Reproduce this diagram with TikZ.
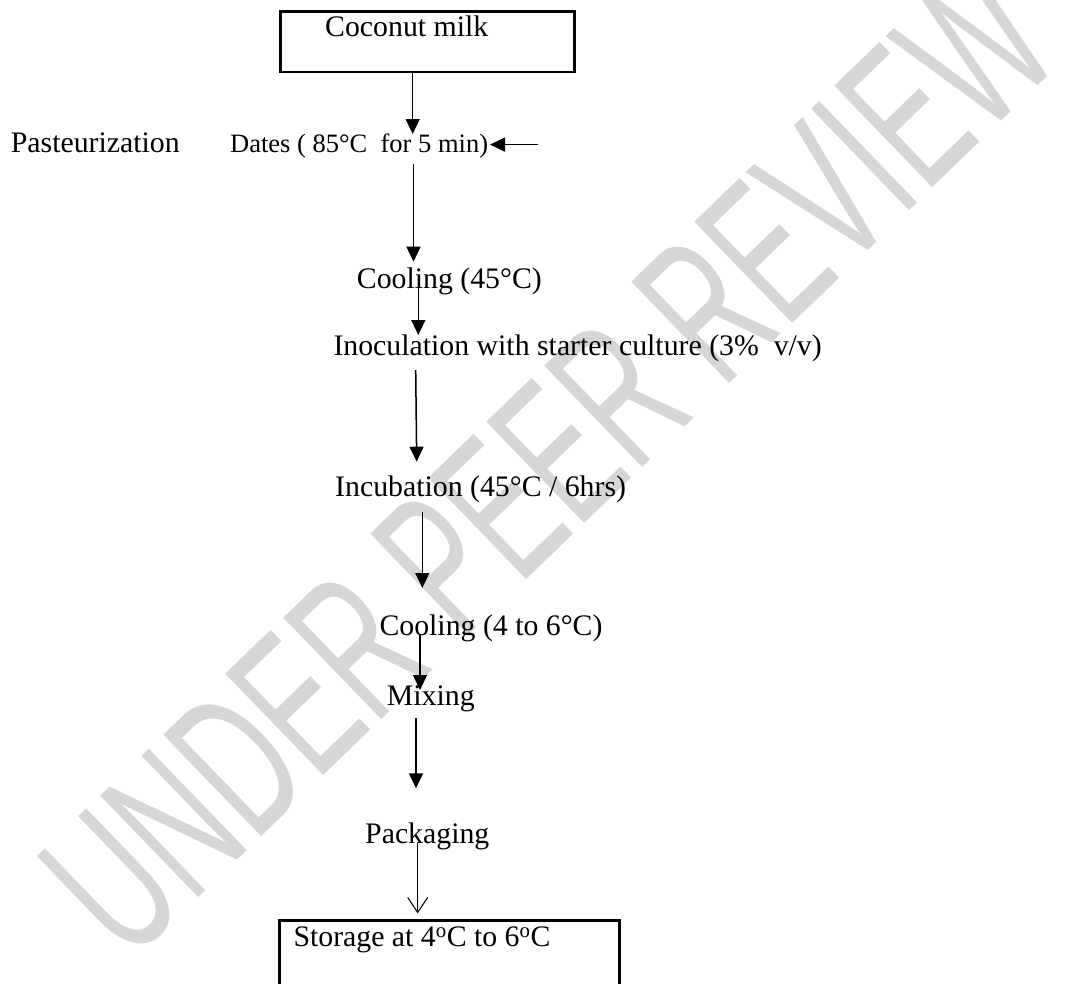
\documentclass[tikz,border=0pt]{standalone}
\usepackage{fontspec}
\setmainfont{Liberation Serif}
\newfontfamily\wmfont{Liberation Sans}
\usetikzlibrary{arrows.meta}
\definecolor{wmgray}{RGB}{214,214,214}
\begin{document}
\begin{tikzpicture}[x=1pt,y=-1pt,
  txt/.style={anchor=base west, inner sep=0pt, font=\fontsize{29.8}{36}\selectfont},
  smalltxt/.style={anchor=base west, inner sep=0pt, font=\fontsize{26.5}{32}\selectfont},
  flow/.style={line width=1.5pt, -{Triangle[width=14pt,length=15pt]}},
  openflow/.style={line width=1pt, -{Straight Barb[width=20pt,length=15pt]}},
  frame/.style={draw, line width=2.5pt, inner sep=0pt, anchor=north west}
]
\clip (0,0) rectangle (1067,983);
\fill[white] (0,0) rectangle (1067,983);
% watermark
\node[rotate=44, text=wmgray, inner sep=0pt] (wm) at (549,462)
  {\scalebox{0.59}[1]{\wmfont\fontsize{205}{205}\selectfont UNDER PEER REVIEW}};
% boxes
\node[frame, minimum width=294pt, minimum height=60.7pt] (milkbox) at (279,10) {};
\node[frame, minimum width=339.7pt, minimum height=120pt] (storebox) at (278.3,919.3) {};
% texts
\node[txt] (milk) at (325,36.7) {Coconut milk};
\node[txt] (past) at (10.7,152.5) {Pasteurization};
\node[smalltxt] (dates) at (230,152.5) {Dates ( 85°C\ \ for 5 min)};
\node[txt] (cool1) at (356.7,288.3) {Cooling (45°C)};
\node[txt] (inoc) at (333.3,355) {Inoculation with starter culture (3\%\ \ v/v)};
\node[txt] (incub) at (335,496.7) {Incubation (45°C / 6hrs)};
\node[txt] (cool2) at (379.3,635) {Cooling (4 to 6°C)};
\node[txt] (mix) at (386.7,705) {Mixing};
\node[txt] (pack) at (365,843) {Packaging};
\node[txt] (store) at (293.3,946.7) {Storage at 4\textsuperscript{o}C to 6\textsuperscript{o}C};
% arrow end points
\coordinate (a1e) at (412.7,134);
\coordinate (d0) at (537.5,144.6);
\coordinate (d1) at (490,144.6);
\coordinate (a2s) at (413.5,163.6); \coordinate (a2e) at (413.5,261.7);
\coordinate (a3s) at (418.3,288.3); \coordinate (a3e) at (418.3,335);
\coordinate (a4s) at (415.7,370);   \coordinate (a4e) at (416.7,461.7);
\coordinate (a5s) at (422.3,511.7); \coordinate (a5e) at (422.3,588);
\coordinate (a6s) at (420,635);     \coordinate (a6e) at (420,690);
\coordinate (a7s) at (416,718);     \coordinate (a7e) at (416,788.3);
\coordinate (a8s) at (417.7,843);   \coordinate (a8e) at (417.7,913.3);
% connectors
\draw[flow] (milkbox.south -| a1e) -- (a1e);
\draw[flow] (d0) -- (d1);
\draw[flow] (a2s) -- (a2e);
\draw[flow] (a3s) -- (a3e);
\draw[flow] (a4s) -- (a4e);
\draw[flow] (a5s) -- (a5e);
\draw[flow] (a6s) -- (a6e);
\draw[flow] (a7s) -- (a7e);
\draw[openflow] (a8s) -- (a8e);
\end{tikzpicture}
\end{document}
